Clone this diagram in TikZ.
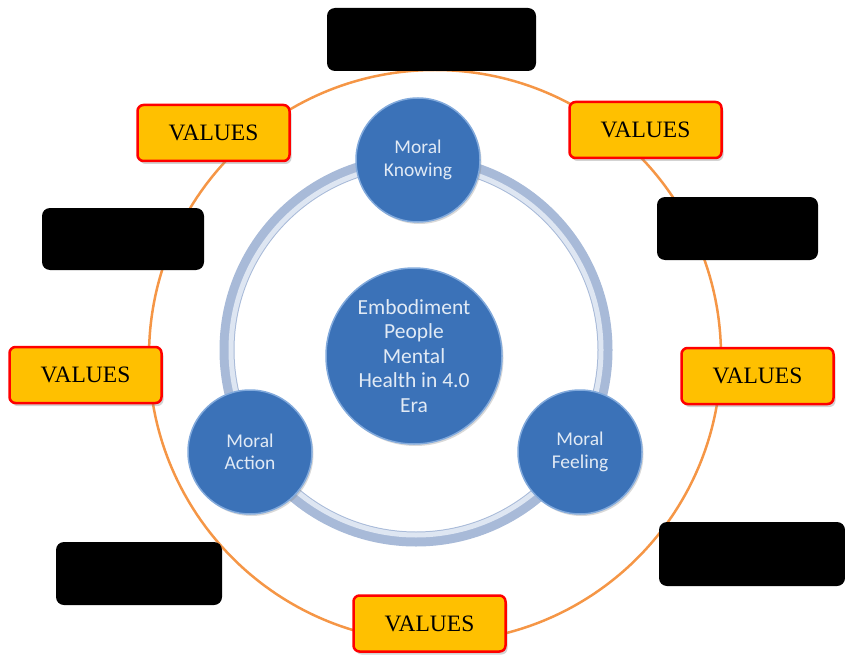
\documentclass[tikz,border=0pt]{standalone}
\usepackage{fontspec}
\setmainfont{Liberation Serif}
\newfontfamily\calib{Carlito}
\usetikzlibrary{shadows}
\definecolor{valfill}{RGB}{255,192,0}
\definecolor{ballblue}{RGB}{59,114,184}
\definecolor{ballrim}{RGB}{130,170,220}
\definecolor{balltext}{RGB}{225,234,245}
\definecolor{ringblue}{RGB}{168,186,216}
\definecolor{ringlight}{RGB}{222,230,242}
\definecolor{orangeline}{RGB}{245,150,70}
\begin{document}
\begin{tikzpicture}[x=1pt,y=-1pt,
  valbox/.style={draw=red, line width=2.5pt, fill=valfill, rounded corners=6pt,
    minimum width=152pt, minimum height=56pt, inner sep=0pt,
    font=\fontsize{23.5}{28}\selectfont,
    drop shadow={shadow xshift=2pt, shadow yshift=-3pt, opacity=0.35, fill=gray}},
  blackbox/.style={fill=black, rounded corners=8pt, inner sep=0pt},
  ball/.style={circle, fill=ballblue, draw=ballrim, line width=1.5pt, text=balltext,
    font=\calib\fontsize{19.5}{22.5}\selectfont, align=center, inner sep=0pt,
    minimum size=124pt,
    drop shadow={shadow xshift=1.5pt, shadow yshift=-2pt, opacity=0.3, fill=gray}}]
\useasboundingbox (0,0) rectangle (845,663);
% outer orange circle
\draw[orangeline, line width=2.5pt] (435,356) circle (286);
% grey ring
\draw[ringblue, line width=15pt] (416,350) circle (189);
\draw[ringlight, line width=5pt] (416,350) circle (185);
% circles
\node[ball, minimum size=176pt, font=\calib\fontsize{21.5}{24.5}\selectfont] (center) at (414,356)
  {Embodiment\\People\\Mental\\Health in 4.0\\Era};
\node[ball] (know) at (418,160) {Moral\\Knowing};
\node[ball] (act) at (250,452) {Moral\\Action};
\node[ball] (feel) at (580,452) {Moral\\Feeling};
% VALUES boxes
\node[valbox] (v1) at (213.5,133) {VALUES};
\node[valbox] (v2) at (645.5,130) {VALUES};
\node[valbox] (v3) at (85.5,375) {VALUES};
\node[valbox] (v4) at (757.5,376) {VALUES};
\node[valbox] (v5) at (429.5,623.5) {VALUES};
% black boxes
\node[blackbox, minimum width=209pt, minimum height=63pt] (b1) at (431.5,39.5) {};
\node[blackbox, minimum width=162pt, minimum height=62pt] (b2) at (123,239) {};
\node[blackbox, minimum width=161pt, minimum height=63pt] (b3) at (737.5,228.5) {};
\node[blackbox, minimum width=166pt, minimum height=63pt] (b4) at (139,573.5) {};
\node[blackbox, minimum width=186pt, minimum height=64pt] (b5) at (752,554) {};
\end{tikzpicture}
\end{document}
